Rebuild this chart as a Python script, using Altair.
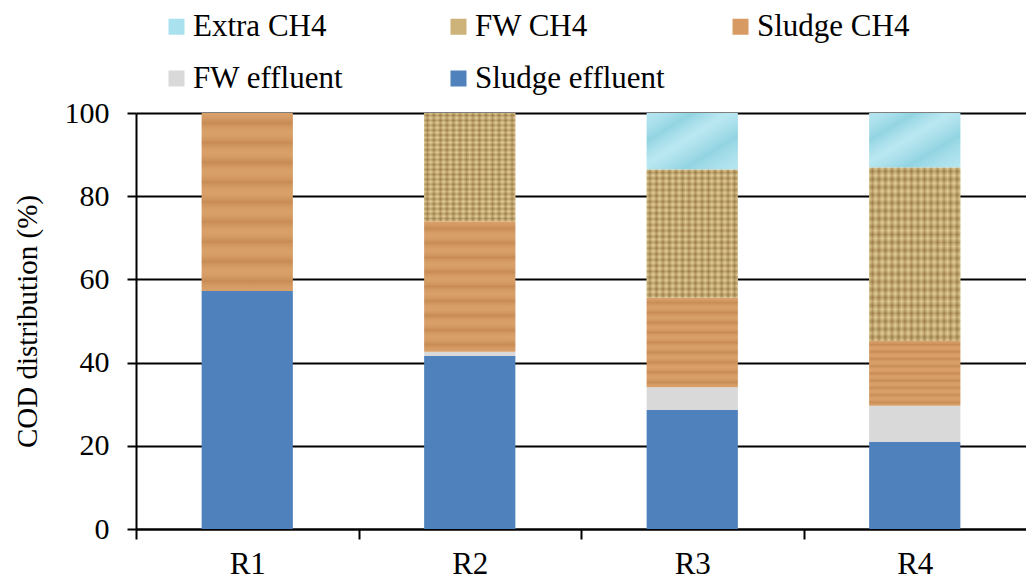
import altair as alt
import pandas as pd

# ---- data ----
reactors = ["R1", "R2", "R3", "R4"]
sludge_effluent = [57.2, 41.6, 28.6, 20.9]
fw_effluent = [0.0, 1.0, 5.5, 8.7]
sludge_ch4 = [42.8, 31.4, 21.5, 15.6]
fw_ch4 = [0.0, 26.0, 30.8, 41.7]
extra_ch4 = [0.0, 0.0, 13.6, 13.1]

series_stack = ["Sludge effluent", "FW effluent", "Sludge CH4", "FW CH4", "Extra CH4"]
series_values = [sludge_effluent, fw_effluent, sludge_ch4, fw_ch4, extra_ch4]
legend_order = ["Extra CH4", "FW CH4", "Sludge CH4", "FW effluent", "Sludge effluent"]
legend_colors = ["#A9E2EE", "#CDB27A", "#D69A62", "#D9D9D9", "#4F81BD"]
y_ticks = [0, 20, 40, 60, 80, 100]

rows = []
for k, (name, vals) in enumerate(zip(series_stack, series_values)):
    for r, v in zip(reactors, vals):
        rows.append({"reactor": r, "series": name, "value": v, "order": k})
df = pd.DataFrame(rows)

FONT = "Liberation Serif"
W, H = 890, 416
STEP = W / len(reactors)

x_enc = alt.X(
    "reactor:N",
    sort=reactors,
    scale=alt.Scale(paddingInner=0.59, paddingOuter=0.295),
    axis=alt.Axis(
        title=None, labelAngle=0, labelFont=FONT, labelFontSize=31, labelColor="black",
        domainColor="black", domainWidth=2, tickColor="black", tickWidth=2, tickSize=10,
        tickOffset=-STEP / 2, labelOffset=STEP / 2, labelPadding=10, grid=False,
    ),
)
y_scale = alt.Scale(domain=[0, 100], nice=False)
y_enc = alt.Y(
    "y0:Q",
    scale=y_scale,
    axis=alt.Axis(
        title="COD distribution (%)", titleFont=FONT, titleFontSize=29, titleFontWeight="normal",
        titleColor="black", titlePadding=22, values=y_ticks, labelFont=FONT, labelFontSize=30,
        labelColor="black", labelPadding=18, domainColor="black", domainWidth=2,
        tickColor="black", tickWidth=2, tickSize=9, grid=True, gridColor="black", gridWidth=2,
    ),
)

base = alt.Chart(df).transform_filter(alt.datum.value > 0).transform_stack(
    stack="value", groupby=["reactor"], as_=["y0", "y1"], sort=[alt.SortField("order")]
)

bars = base.mark_bar(strokeWidth=0).encode(
    x=x_enc,
    y=y_enc,
    y2="y1:Q",
    color=alt.Color(
        "series:N",
        scale=alt.Scale(domain=legend_order, range=legend_colors),
        legend=alt.Legend(
            orient="none", legendX=25, legendY=-102, direction="horizontal", columns=3,
            gridAlign="all", columnPadding=60, rowPadding=20, symbolType="square",
            symbolSize=256, symbolStrokeWidth=0, symbolOpacity=1, labelFont=FONT,
            labelFontSize=31, labelColor="black", labelOffset=1, labelLimit=400,
            title=None, padding=0,
        ),
    ),
)


def stripes(n, dark, light, horizontal):
    stops = []
    for i in range(n):
        stops.append({"offset": i / n, "color": light})
        stops.append({"offset": (i + 0.5) / n, "color": dark})
    stops.append({"offset": 1.0, "color": light})
    if horizontal:
        return {"gradient": "linear", "x1": 0, "y1": 0, "x2": 0, "y2": 1, "stops": stops}
    return {"gradient": "linear", "x1": 0, "y1": 0, "x2": 1, "y2": 0, "stops": stops}


wood = base.transform_filter(alt.datum.series == "Sludge CH4").mark_bar(
    fill=stripes(9, "rgba(150,85,35,0.22)", "rgba(255,225,180,0.08)", True), strokeWidth=0
).encode(x=x_enc, y=y_enc, y2="y1:Q")

burlap_h = base.transform_filter(alt.datum.series == "FW CH4").mark_bar(
    fill=stripes(22, "rgba(110,75,25,0.35)", "rgba(255,240,190,0.30)", True), strokeWidth=0
).encode(x=x_enc, y=y_enc, y2="y1:Q")

burlap_v = base.transform_filter(alt.datum.series == "FW CH4").mark_bar(
    fill=stripes(14, "rgba(110,75,25,0.30)", "rgba(255,240,190,0.25)", False), strokeWidth=0
).encode(x=x_enc, y=y_enc, y2="y1:Q")

water = base.transform_filter(alt.datum.series == "Extra CH4").mark_bar(
    fill={"gradient": "linear", "x1": 0, "y1": 0, "x2": 1, "y2": 1, "stops": [
        {"offset": 0.0, "color": "rgba(255,255,255,0.15)"},
        {"offset": 0.25, "color": "rgba(80,170,190,0.25)"},
        {"offset": 0.45, "color": "rgba(255,255,255,0.20)"},
        {"offset": 0.7, "color": "rgba(80,170,190,0.25)"},
        {"offset": 1.0, "color": "rgba(255,255,255,0.15)"},
    ]}, strokeWidth=0
).encode(x=x_enc, y=y_enc, y2="y1:Q")

chart = alt.layer(bars, wood, burlap_h, burlap_v, water).properties(
    width=W, height=H,
    autosize=alt.AutoSizeParams(type="none"),
    padding={"left": 128, "top": 105, "right": 0, "bottom": 50},
    background="white",
).configure_view(stroke="transparent")

chart.save("out.html", embed_options={"renderer": "svg", "actions": False})
